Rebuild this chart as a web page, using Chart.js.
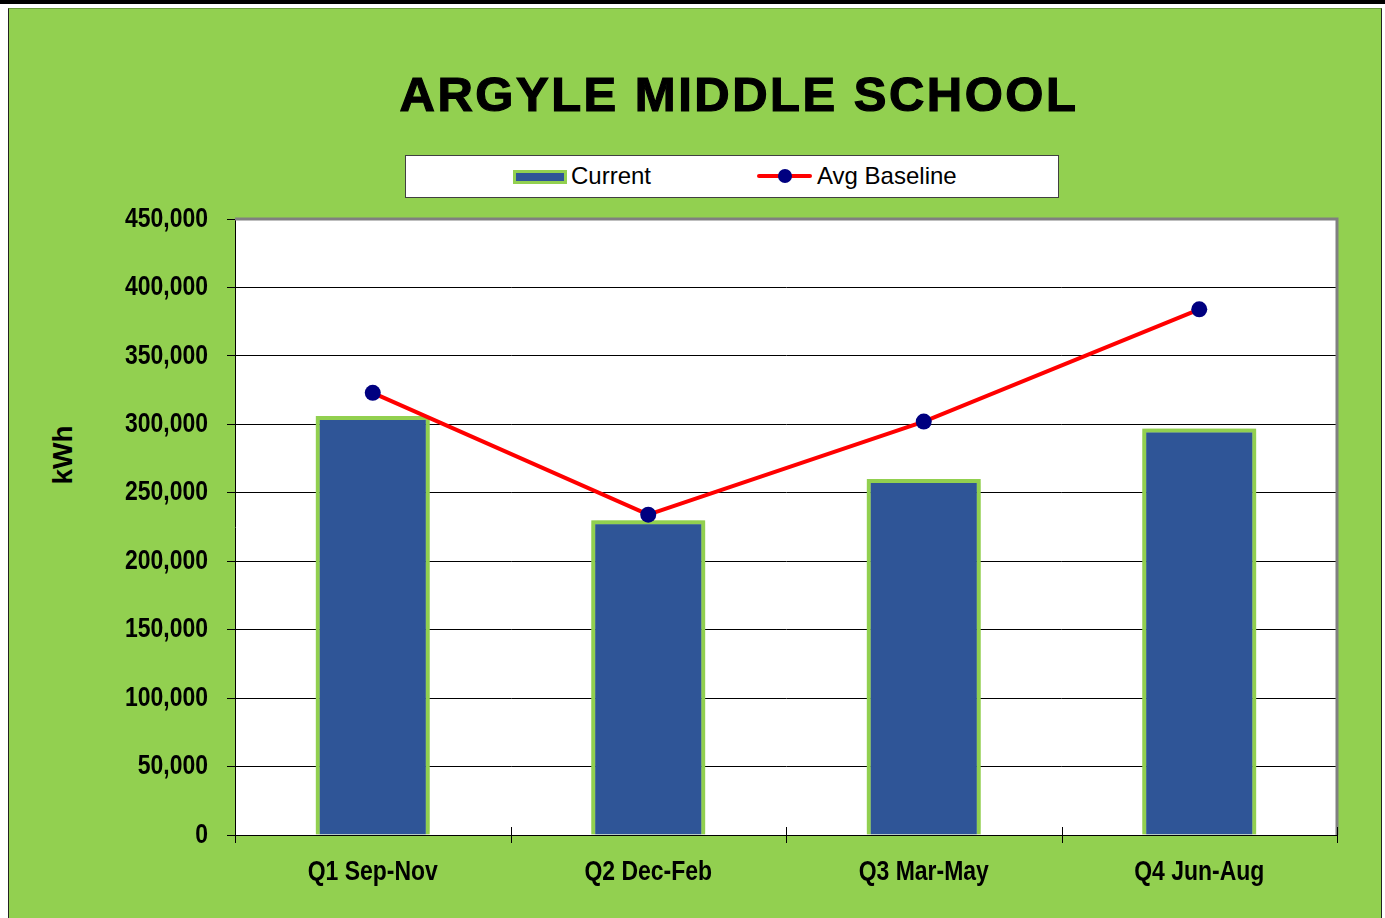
<!DOCTYPE html>
<html>
<head>
<meta charset="utf-8">
<script src="https://cdn.jsdelivr.net/npm/chart.js@4/dist/chart.umd.min.js"></script>
<style>
  html, body { margin: 0; padding: 0; background: #fff; width: 1385px; height: 918px; overflow: hidden; }
  .topbar { position: absolute; left: 0; top: 0; width: 1385px; height: 4px; background: #000; }
  .panel { position: absolute; left: 8px; top: 8px; width: 1372px; height: 930px; background: #92d050;
           border-left: 1px solid #222; border-right: 1px solid #222; border-top: 1px solid #6a9a3a; }
  .title { position: absolute; left: 0; width: 1478px; top: 66px; text-align: center;
           font: bold 49px "Liberation Sans", Arial, sans-serif; color: #000; letter-spacing: 2.5px;
           -webkit-text-stroke: 1.2px #000; }
  .legend { position: absolute; left: 405px; top: 155px; width: 652px; height: 41px; background: #fff;
            border: 1px solid #404040; font: 24px "Liberation Sans", Arial, sans-serif; }
  .legend .item { position: absolute; top: 7px; line-height: 26px; }
  .sw-bar { position: absolute; top: 7px; width: 48px; height: 8px; background: #2f5597; border: 3px solid #92d050; }
  .sw-line { position: absolute; top: 11px; width: 55px; height: 4px; background: #ff0000; border-radius: 2px; }
  .sw-dot { position: absolute; top: -5px; left: 21px; width: 14px; height: 14px; border-radius: 50%; background: #000080; }
  .ylabel { position: absolute; left: 63px; top: 455px; transform: translate(-50%, -50%) rotate(-90deg);
            font: bold 28px "Liberation Sans", Arial, sans-serif; }
  canvas { position: absolute; left: 0; top: 0; }
</style>
</head>
<body>
<div class="topbar"></div>
<div class="panel"></div>
<div class="title">ARGYLE MIDDLE SCHOOL</div>
<div class="legend">
  <div class="item" style="left:107px;"><span class="sw-bar" style="left:0"></span><span style="margin-left:58px">Current</span></div>
  <div class="item" style="left:351px;"><span class="sw-line" style="left:0"><span class="sw-dot"></span></span><span style="margin-left:60px">Avg Baseline</span></div>
</div>
<div class="ylabel">kWh</div>
<canvas id="chart" width="1385" height="918"></canvas>
<script>
// chart data
const categories = ['Q1 Sep-Nov', 'Q2 Dec-Feb', 'Q3 Mar-May', 'Q4 Jun-Aug'];
const currentValues = [306000, 230000, 260000, 297000];
const baselineValues = [323000, 234000, 302000, 384000];
const yTicks = [0, 50000, 100000, 150000, 200000, 250000, 300000, 350000, 400000, 450000];

// narrow bold labels: regular bold font squeezed horizontally
const LABEL_FONT = 'bold 28px "Liberation Sans", Arial, sans-serif';
const SQUEEZE = 0.82;

function drawNarrow(ctx, text, x, y, align) {
    ctx.save();
    ctx.font = LABEL_FONT;
    ctx.fillStyle = '#000';
    ctx.textBaseline = 'middle';
    ctx.textAlign = align;
    ctx.translate(x, y);
    ctx.scale(SQUEEZE, 1);
    ctx.fillText(text, 0, 0);
    ctx.restore();
}

const tickLabels = {
    id: 'tickLabels',
    afterDraw(chart) {
        const { ctx, scales } = chart;
        const y = scales.y, x = scales.x;
        y.ticks.forEach((t, i) => {
            drawNarrow(ctx, t.value.toLocaleString('en-US'), y.right - 27, y.getPixelForTick(i), 'right');
        });
        x.ticks.forEach((t, i) => {
            drawNarrow(ctx, categories[t.value], x.getPixelForTick(i), x.top + 37, 'center');
        });
        // category tick marks crossing the axis line
        ctx.save();
        ctx.strokeStyle = '#000';
        ctx.lineWidth = 1;
        for (let i = 0; i <= categories.length; i++) {
            const px = Math.round(x.left + (x.right - x.left) * i / categories.length) + 0.5;
            ctx.beginPath();
            ctx.moveTo(px, x.top - 8);
            ctx.lineTo(px, x.top + 8);
            ctx.stroke();
        }
        ctx.restore();
    }
};

// soft glow behind the bars
const barGlow = {
    id: 'barGlow',
    beforeDatasetDraw(chart, args) {
        if (args.meta.type === 'bar') {
            chart.ctx.save();
            chart.ctx.shadowColor = 'rgba(146, 208, 80, 0.9)';
            chart.ctx.shadowBlur = 10;
        }
    },
    afterDatasetDraw(chart, args) {
        if (args.meta.type === 'bar') chart.ctx.restore();
    }
};

// grey frame on top and right of the plot area
const plotFrame = {
    id: 'plotFrame',
    beforeDatasetsDraw(chart) {
        const { ctx, chartArea: a } = chart;
        ctx.save();
        ctx.strokeStyle = '#808080';
        ctx.lineWidth = 3;
        ctx.beginPath();
        ctx.moveTo(a.left, a.top);
        ctx.lineTo(a.right, a.top);
        ctx.lineTo(a.right, a.bottom);
        ctx.stroke();
        ctx.restore();
    }
};

const whiteArea = {
    id: 'whiteArea',
    beforeDraw(chart) {
        const { ctx, chartArea: a } = chart;
        ctx.save();
        ctx.fillStyle = '#fff';
        ctx.fillRect(a.left, a.top, a.right - a.left, a.bottom - a.top);
        ctx.restore();
    }
};

new Chart(document.getElementById('chart'), {
    data: {
        labels: categories,
        datasets: [
            {
                type: 'line',
                label: 'Avg Baseline',
                data: baselineValues,
                borderColor: '#ff0000',
                borderWidth: 4,
                pointRadius: 8,
                pointBackgroundColor: '#000080',
                pointBorderColor: '#000080',
                pointBorderWidth: 0,
                tension: 0,
                order: 0
            },
            {
                type: 'bar',
                label: 'Current',
                data: currentValues,
                backgroundColor: '#2f5597',
                borderColor: '#92d050',
                borderWidth: 4,
                categoryPercentage: 1,
                barPercentage: 0.414,
                order: 1
            }
        ]
    },
    options: {
        responsive: false,
        animation: false,
        layout: { padding: { left: 0, top: 219, right: 48, bottom: 0 } },
        plugins: {
            legend: { display: false },
            title: { display: false },
            tooltip: { enabled: false }
        },
        scales: {
            x: {
                afterFit(scale) { scale.height = 83; },
                grid: { display: false },
                border: { color: '#000', width: 1 },
                ticks: { display: false }
            },
            y: {
                min: 0,
                max: 450000,
                afterFit(scale) { scale.width = 235; },
                afterBuildTicks(scale) { scale.ticks = yTicks.map(v => ({ value: v })); },
                grid: { color: '#000', lineWidth: 1, tickLength: 8 },
                border: { color: '#000', width: 1 },
                ticks: { display: false }
            }
        }
    },
    plugins: [whiteArea, plotFrame, barGlow, tickLabels]
});
</script>
</body>
</html>
